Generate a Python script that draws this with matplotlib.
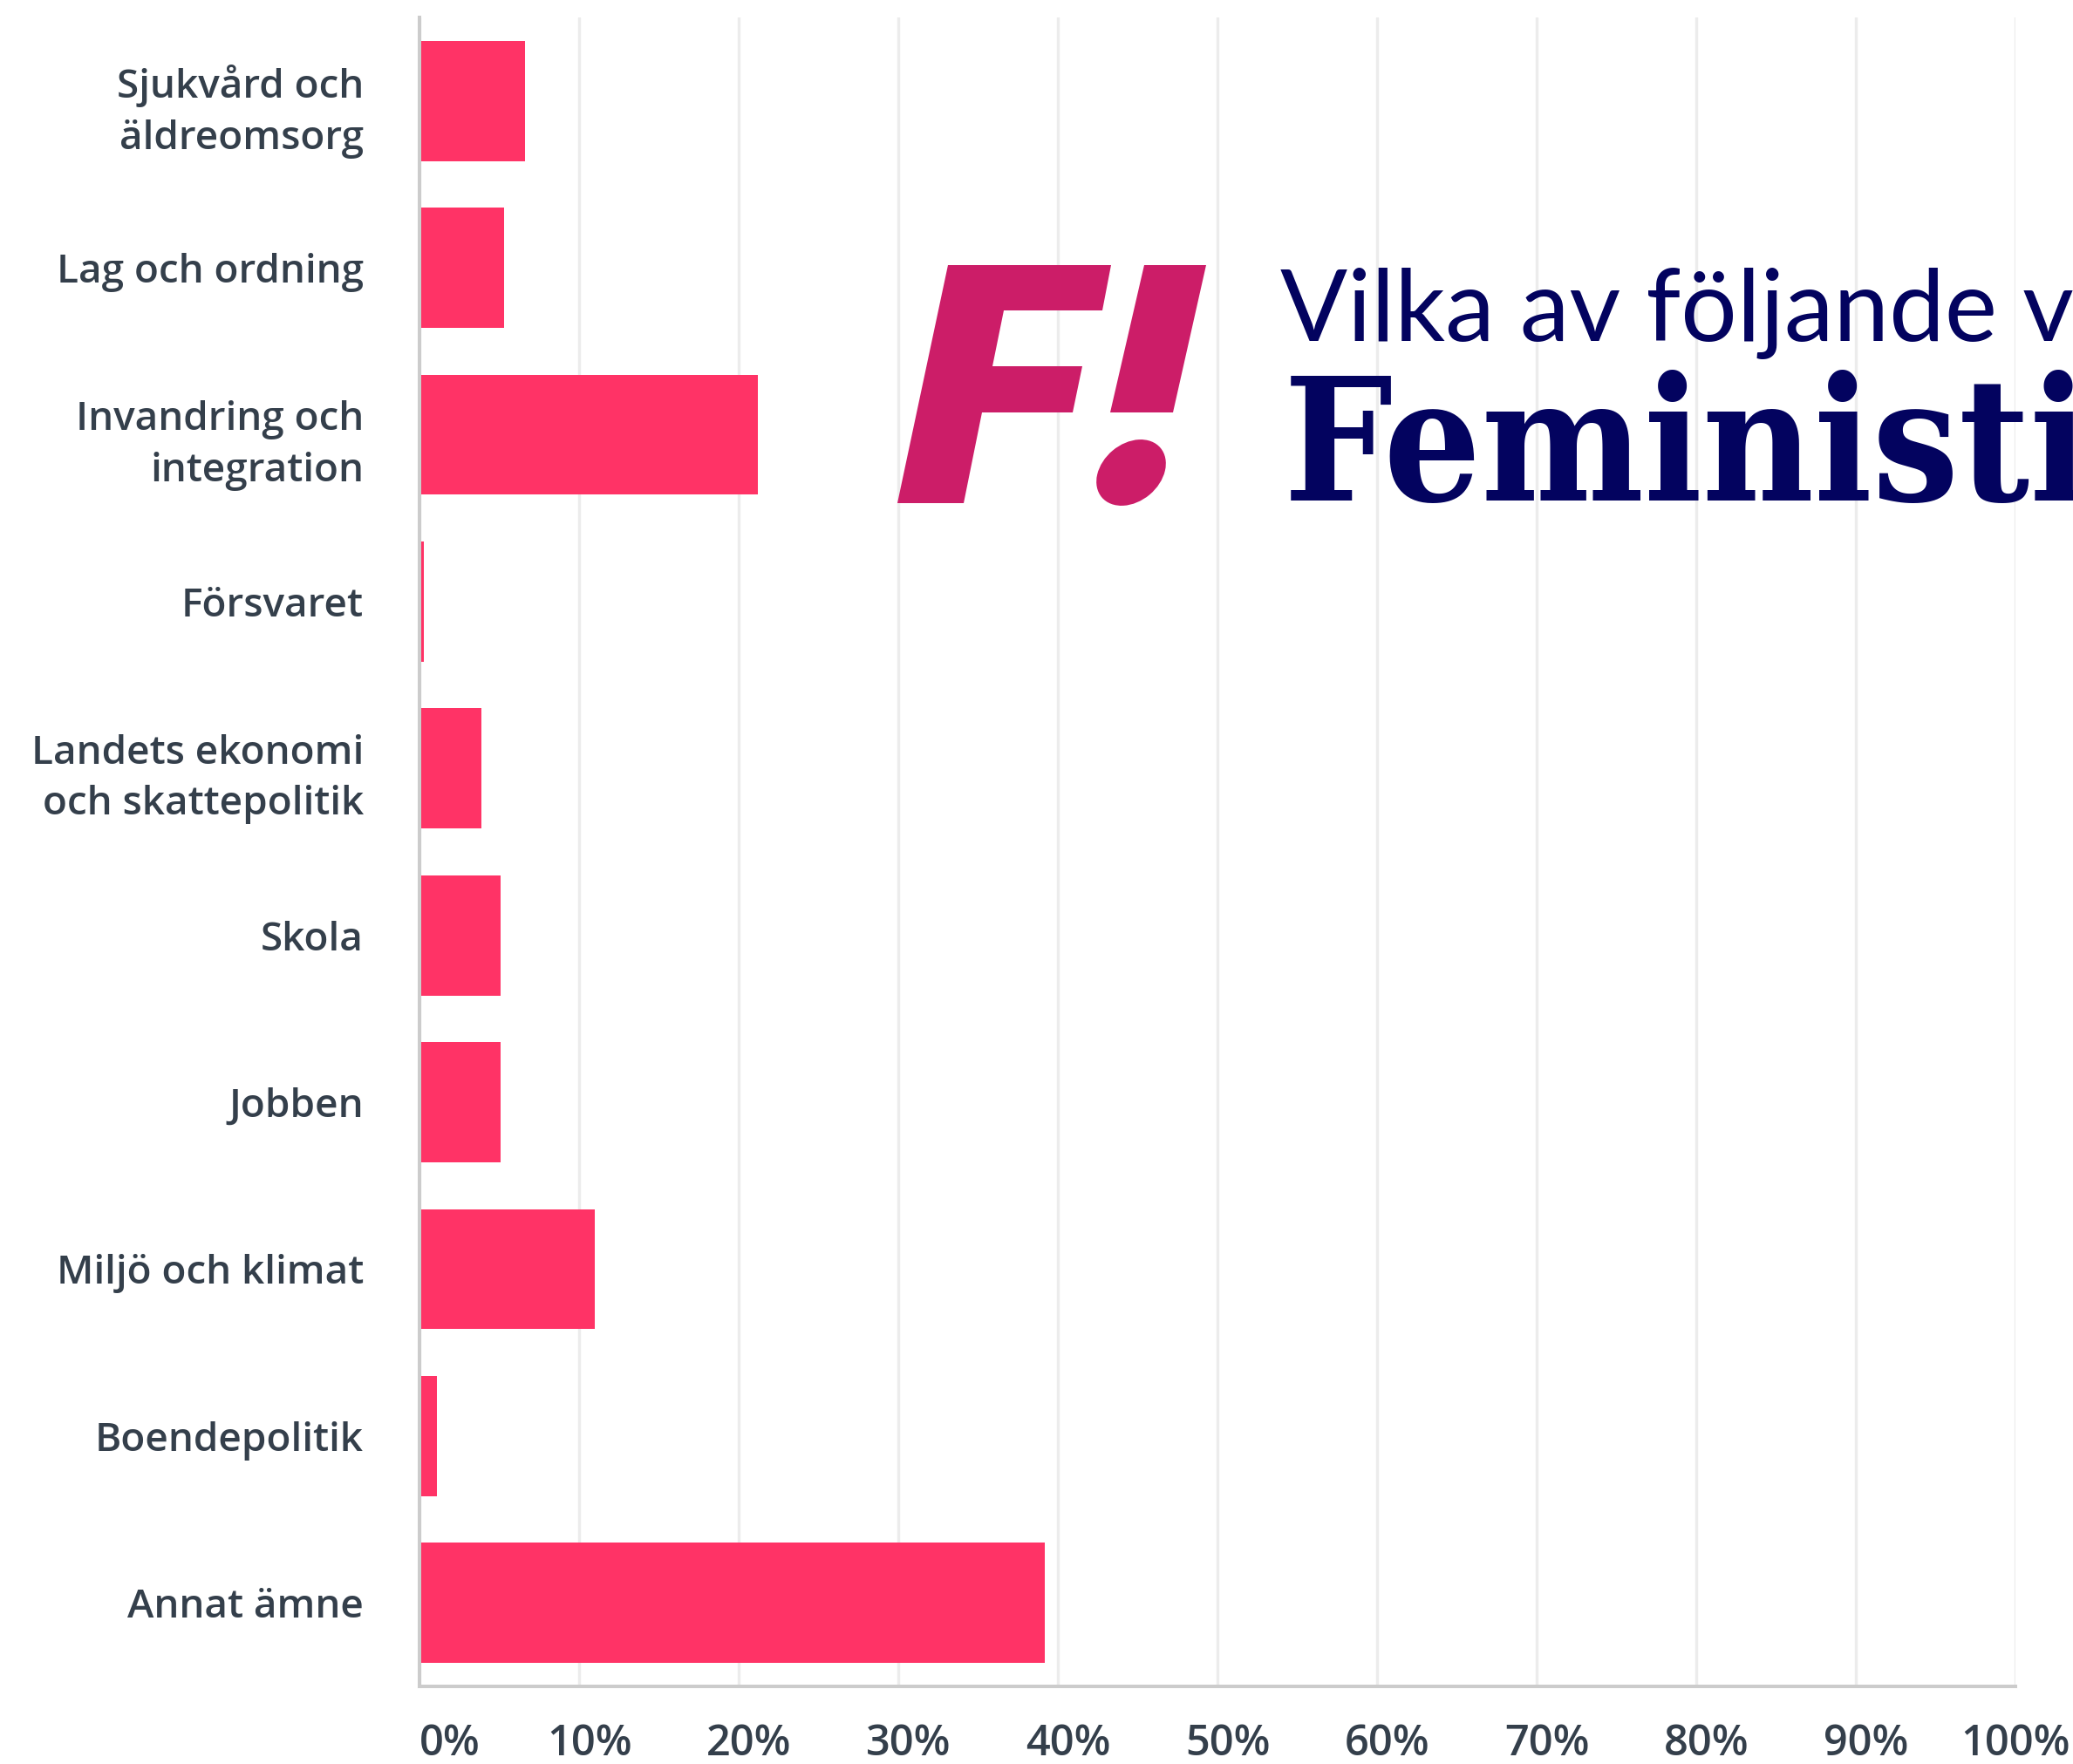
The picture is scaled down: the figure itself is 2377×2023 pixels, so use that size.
import matplotlib
matplotlib.use("Agg")
import matplotlib.pyplot as plt
from matplotlib.patches import Polygon, Ellipse
from matplotlib.transforms import ScaledTranslation
import numpy as np

categories = ["Sjukvård och\näldreomsorg", "Lag och ordning", "Invandring och\nintegration",
              "Försvaret", "Landets ekonomi\noch skattepolitik", "Skola", "Jobben",
              "Miljö och klimat", "Boendepolitik", "Annat ämne"]
values = [6.6, 5.3, 21.2, 0.3, 3.9, 5.1, 5.1, 11.0, 1.1, 39.2]
xticks = [0, 10, 20, 30, 40, 50, 60, 70, 80, 90, 100]
xticklabels = [str(t) + "%" for t in xticks]
title_top = "Vilka av följande valfrågor"
title_bottom = "Feministiskt initiativ"

W, H = 2377, 2023
fig = plt.figure(figsize=(W / 100, H / 100), dpi=100)
ax = fig.add_axes([481 / W, 1 - 1934 / H, 1830 / W, 1914 / H])

label_col = "#343f4b"
y = np.arange(len(categories))
ax.barh(y, values, height=0.72, color="#ff3366", zorder=3)
ax.set_ylim(len(categories) - 0.5, -0.5)
ax.set_xlim(0, 100)

ax.set_yticks(y)
ax.set_yticklabels(categories, fontsize=33, color=label_col, family="Open Sans",
                   fontweight="semibold", linespacing=1.4)
ax.set_xticks(xticks)
ax.set_xticklabels(xticklabels, fontsize=35, color=label_col, family="Open Sans",
                   fontweight="semibold")
ax.tick_params(axis="y", length=0, pad=46)
ax.tick_params(axis="x", length=0, pad=30)

# small offsets of the x labels as in the original
for i, lab in enumerate(ax.get_xticklabels()):
    if i == 0:
        lab.set_horizontalalignment("left")
    elif i < len(xticks) - 1:
        lab.set_transform(lab.get_transform() + ScaledTranslation(0.12, 0, fig.dpi_scale_trans))

ax.grid(axis="x", color="#ececec", linewidth=2.4, zorder=0)
ax.set_axisbelow(True)
for s in ["top", "right"]:
    ax.spines[s].set_visible(False)
for s in ["left", "bottom"]:
    ax.spines[s].set_color("#cccccc")
    ax.spines[s].set_linewidth(2.9)
    ax.spines[s].set_zorder(4)

# logo + heading overlay, pixel coords
ov = fig.add_axes([0, 0, 1, 1], zorder=5)
ov.set_xlim(0, W)
ov.set_ylim(H, 0)
ov.axis("off")
ov.patch.set_visible(False)

logo_col = "#cc1d68"
f_shape = [(1087, 304), (1274, 304), (1264, 356), (1151, 356), (1138, 420), (1241, 420),
           (1230, 473), (1126, 473), (1105, 577), (1029, 577)]
bar_shape = [(1312, 304), (1383, 304), (1345, 473), (1273, 473)]
ov.add_patch(Polygon(f_shape, closed=True, color=logo_col, lw=0))
ov.add_patch(Polygon(bar_shape, closed=True, color=logo_col, lw=0))
ov.add_patch(Ellipse((1297, 542), 88, 66, angle=-40, color=logo_col, lw=0))

navy = "#03035f"
ov.text(1468, 391, title_top, fontsize=82, family="Lato", color=navy, va="baseline")
ov.text(1472, 574, title_bottom, fontsize=141, family="DejaVu Serif", fontweight="bold",
        fontstretch="condensed", color=navy, va="baseline")

fig.savefig("out.png", dpi=100)
